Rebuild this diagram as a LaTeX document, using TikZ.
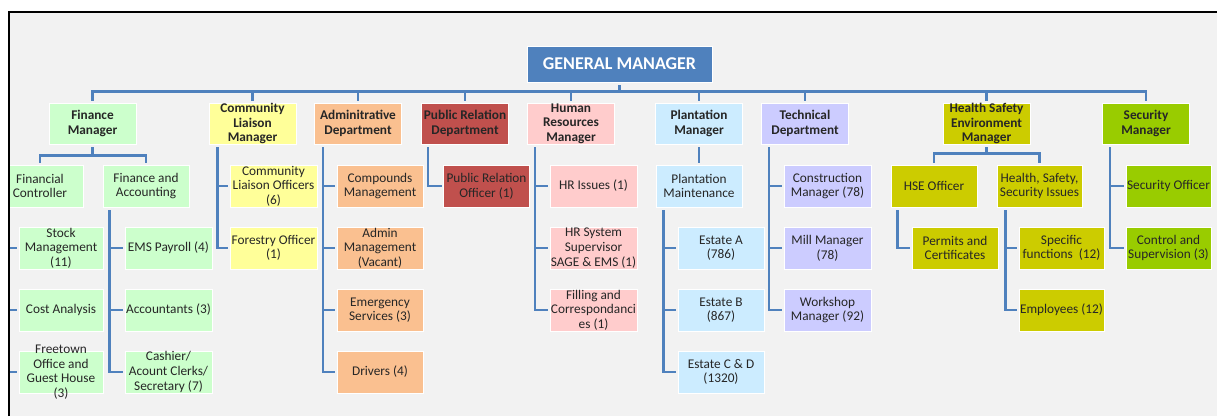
\documentclass[tikz,border=0pt]{standalone}
\usepackage{fontspec}
\setmainfont{Carlito}
\usepackage{tikz}

\definecolor{linkblue}{HTML}{4F81BD}
\definecolor{gmblue}{HTML}{4F81BD}
\definecolor{paper}{HTML}{F2F2F2}
\definecolor{cFin}{HTML}{CCFFCC}
\definecolor{cCom}{HTML}{FFFF99}
\definecolor{cAdm}{HTML}{FAC090}
\definecolor{cPub}{HTML}{C0504D}
\definecolor{cHum}{HTML}{FFCCCC}
\definecolor{cPla}{HTML}{CCECFF}
\definecolor{cTec}{HTML}{CCCCFF}
\definecolor{cHse}{HTML}{CCCC00}
\definecolor{cSec}{HTML}{99CC00}

\tikzset{
	txt/.style={align=center, text=black!85, font=\fontsize{13.3}{14.6}\selectfont},
	unit/.style={txt, draw=white, line width=0.8pt, inner sep=0pt, minimum width=86pt, minimum height=42pt},
	head/.style={unit, minimum width=87pt, minimum height=41pt, font=\fontsize{13.3}{14.6}\selectfont\bfseries},
	link/.style={draw=linkblue, line width=2.4pt, shorten <=3pt, shorten >=1.5pt},
}

\begin{document}
\begin{tikzpicture}[x=1pt, y=-1pt]
	\useasboundingbox (0,0) rectangle (1217,416);
	\fill[white] (0,0) rectangle (1217,416);
	\begin{scope}
	\clip (9,12) rectangle (1217,416);
	\fill[paper] (9,12) rectangle (1217,416);
	
	% top
	\node[head, fill=gmblue, text=white, minimum width=185pt, minimum height=36pt, font=\fontsize{18}{20}\selectfont\bfseries] (gm) at (619.5,64) {GENERAL MANAGER};
	
	% heads of department
	\node[head, fill=cFin] (fm) at (92.5,123.5) {Finance\\Manager};
	\node[head, fill=cCom] (clm) at (252.5,123.5) {Community\\Liaison\\Manager};
	\node[head, fill=cAdm] (adm) at (358,123.5) {Adminitrative\\Department};
	\node[head, fill=cPub] (prd) at (465,123.5) {Public Relation\\Department};
	\node[head, fill=cHum] (hrm) at (571,123.5) {Human\\Resources\\Manager};
	\node[head, fill=cPla] (plm) at (699,123.5) {Plantation\\Manager};
	\node[head, fill=cTec] (tcd) at (805,123.5) {Technical\\Department};
	\node[head, fill=cHse] (hse) at (986.5,123.5) {Health Safety\\Environment\\Manager};
	\node[head, fill=cSec] (scm) at (1146,123.5) {Security\\Manager};
	
	\foreach \d in {fm,clm,adm,prd,hrm,plm,tcd,hse,scm}
		\draw[link] (gm.south) -- ++(0,9) -| (\d.north);
	
	% finance
	\node[unit, fill=cFin] (fc) at (40,186) {Financial\\Controller};
	\node[unit, fill=cFin] (fa) at (146,186) {Finance and\\Accounting};
	\node[unit, fill=cFin, minimum width=84pt] (stk) at (61,248) {Stock\\Management\\(11)};
	\node[unit, fill=cFin, minimum width=84pt] (cst) at (61,310) {Cost Analysis};
	\node[unit, fill=cFin, minimum width=84pt, label={[txt]center:{Freetown\\Office and\\Guest House\\(3)}}] (ftn) at (61,372) {};
	\node[unit, fill=cFin, minimum width=87pt] (ems) at (168.5,248) {EMS Payroll (4)};
	\node[unit, fill=cFin, minimum width=87pt] (acc) at (168.5,310) {Accountants (3)};
	\node[unit, fill=cFin, minimum width=87pt] (csh) at (168.5,372) {Cashier/\\Acount Clerks/\\Secretary (7)};
	
	\draw[link] (fm.south) -- ++(0,11) -| (fc.north);
	\draw[link] (fm.south) -- ++(0,11) -| (fa.north);
	\foreach \c in {stk,cst,ftn}
		\draw[link] ([xshift=8pt]fc.south west) |- (\c.west);
	\foreach \c in {ems,acc,csh}
		\draw[link] ([xshift=7pt]fa.south west) |- (\c.west);
	
	% community liaison
	\node[unit, fill=cCom, minimum width=87pt] (clo) at (273.5,186) {Community\\Liaison Officers\\(6)};
	\node[unit, fill=cCom, minimum width=87pt] (fro) at (273.5,248) {Forestry Officer\\(1)};
	\foreach \c in {clo,fro}
		\draw[link] ([xshift=9pt]clm.south west) |- (\c.west);
	
	% administration
	\node[unit, fill=cAdm] (cmp) at (380,186) {Compounds\\Management};
	\node[unit, fill=cAdm] (amg) at (380,248) {Admin\\Management\\(Vacant)};
	\node[unit, fill=cAdm] (emg) at (380,310) {Emergency\\Services (3)};
	\node[unit, fill=cAdm] (drv) at (380,372) {Drivers (4)};
	\foreach \c in {cmp,amg,emg,drv}
		\draw[link] ([xshift=9pt]adm.south west) |- (\c.west);
	
	% public relations
	\node[unit, fill=cPub] (pro) at (486.5,186) {Public Relation\\Officer (1)};
	\draw[link] ([xshift=7pt]prd.south west) |- (pro.west);
	
	% human resources
	\node[unit, fill=cHum, minimum width=87pt] (hri) at (593.5,186) {HR Issues (1)};
	\node[unit, fill=cHum, minimum width=87pt] (hrs) at (593.5,248) {HR System\\Supervisor\\SAGE \& EMS (1)};
	\node[unit, fill=cHum, minimum width=87pt] (fil) at (593.5,310) {Filling and\\Correspondanci\\es (1)};
	\foreach \c in {hri,hrs,fil}
		\draw[link] ([xshift=8pt]hrm.south west) |- (\c.west);
	
	% plantation
	\node[unit, fill=cPla] (pmt) at (699,186) {Plantation\\Maintenance};
	\node[unit, fill=cPla] (esa) at (721,248) {Estate A\\(786)};
	\node[unit, fill=cPla] (esb) at (721,310) {Estate B\\(867)};
	\node[unit, fill=cPla] (esc) at (721,372) {Estate C \& D\\(1320)};
	\draw[link] (plm) -- (pmt);
	\foreach \c in {esa,esb,esc}
		\draw[link] ([xshift=8pt]pmt.south west) |- (\c.west);
	
	% technical
	\node[unit, fill=cTec, minimum width=87pt] (cnm) at (827.5,186) {Construction\\Manager (78)};
	\node[unit, fill=cTec, minimum width=87pt] (mlm) at (827.5,248) {Mill Manager\\(78)};
	\node[unit, fill=cTec, minimum width=87pt] (wsm) at (827.5,310) {Workshop\\Manager (92)};
	\foreach \c in {cnm,mlm,wsm}
		\draw[link] ([xshift=8pt]tcd.south west) |- (\c.west);
	
	% health, safety, environment
	\node[unit, fill=cHse] (hso) at (934,186) {HSE Officer};
	\node[unit, fill=cHse, minimum width=85pt] (hss) at (1039.5,186) {Health, Safety,\\Security Issues};
	\node[unit, fill=cHse] (pmc) at (955,248) {Permits and\\Certificates};
	\node[unit, fill=cHse, minimum width=85pt] (spf) at (1061.5,248) {Specific\\functions~~(12)};
	\node[unit, fill=cHse, minimum width=85pt] (emp) at (1061.5,310) {Employees (12)};
	\draw[link] (hse.south) -- ++(0,9) -| (hso.north);
	\draw[link] (hse.south) -- ++(0,9) -| (hss.north);
	\draw[link] ([xshift=7pt]hso.south west) |- (pmc.west);
	\foreach \c in {spf,emp}
		\draw[link] ([xshift=9pt]hss.south west) |- (\c.west);
	
	% security
	\node[unit, fill=cSec, minimum width=85pt] (sco) at (1168.5,186) {Security Officer};
	\node[unit, fill=cSec, minimum width=85pt] (cts) at (1168.5,248) {Control and\\Supervision (3)};
	\foreach \c in {sco,cts}
		\draw[link] ([xshift=8pt]scm.south west) |- (\c.west);
	\end{scope}
	
	% frame
	\draw[line width=1.5pt] (9,416) -- (9,12) -- (1217,12);
\end{tikzpicture}
\end{document}
